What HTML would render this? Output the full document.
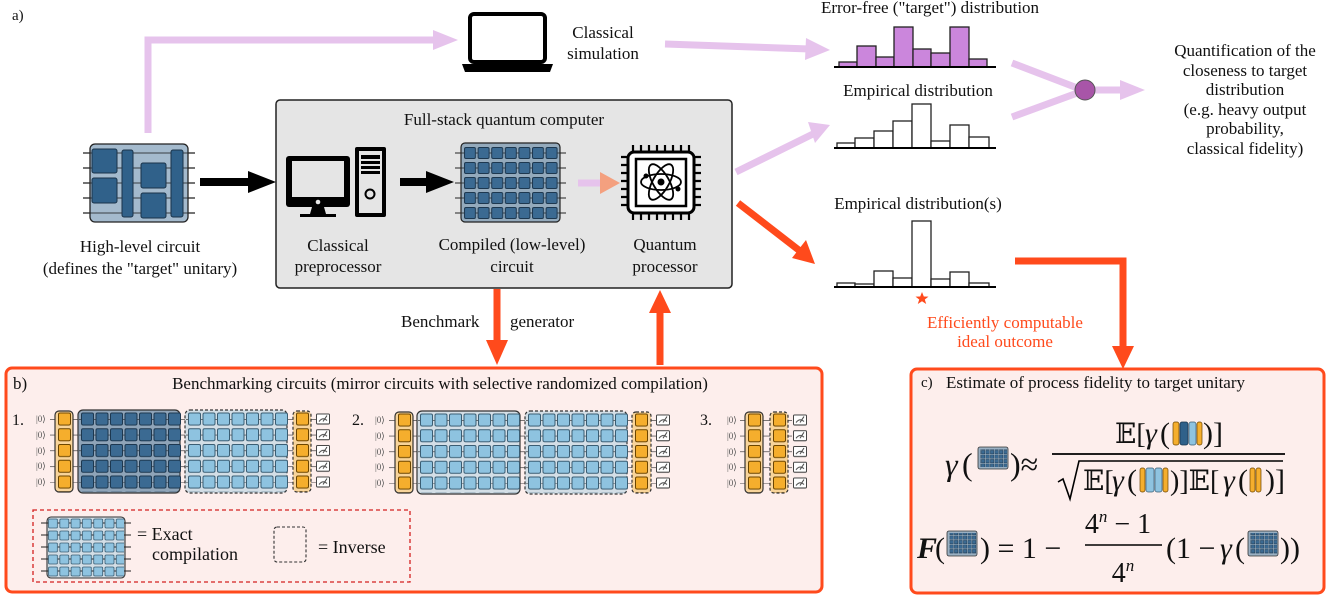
<!DOCTYPE html>
<html><head><meta charset="utf-8"><style>
html,body{margin:0;padding:0;background:#fff}
svg{display:block;font-family:"Liberation Serif","DejaVu Serif",serif}
svg text{font-family:"Liberation Serif","DejaVu Serif",serif !important;fill:#111}
</style></head><body>
<svg width="1327" height="596" viewBox="0 0 1327 596" xmlns="http://www.w3.org/2000/svg" font-family="Liberation Serif, DejaVu Serif, serif">
<defs>
<pattern id="pd" x="0" y="0" width="14.5" height="15.75" patternUnits="userSpaceOnUse"><rect x="0.5" y="0.5" width="12" height="12" rx="1.5" fill="#3b6a92" stroke="#1d3850" stroke-width="1"/></pattern>
<pattern id="pl" x="0" y="0" width="14.5" height="15.75" patternUnits="userSpaceOnUse"><rect x="0.5" y="0.5" width="12" height="12" rx="1.5" fill="#8ec3e0" stroke="#3a5d73" stroke-width="1"/></pattern>
<pattern id="pc" x="0" y="0" width="13.6" height="15" patternUnits="userSpaceOnUse"><rect x="0.5" y="0.5" width="11" height="11" rx="1.5" fill="#3b6a92" stroke="#1d3850" stroke-width="1"/></pattern>
<pattern id="pl2" x="0" y="0" width="11.3" height="12" patternUnits="userSpaceOnUse"><rect x="0.5" y="0.5" width="9" height="9" rx="1.2" fill="#8ec3e0" stroke="#3a5d73" stroke-width="0.8"/></pattern>
<pattern id="po" x="0" y="0" width="14" height="15.75" patternUnits="userSpaceOnUse"><rect x="0.5" y="0.5" width="12" height="12" rx="1.5" fill="#f5ae2d" stroke="#6b4500" stroke-width="1"/></pattern>
<pattern id="pm" x="0" y="0" width="14" height="15.75" patternUnits="userSpaceOnUse"><rect x="0.5" y="1.5" width="13" height="10" rx="1" fill="#fff" stroke="#444" stroke-width="1"/><path d="M3 9 Q7 4 11 8 M7 9 L11 3" stroke="#444" fill="none" stroke-width="1"/></pattern>
<pattern id="pmini" x="0" y="0" width="4.5" height="4.5" patternUnits="userSpaceOnUse"><rect x="0.4" y="0.4" width="3.4" height="3.4" fill="#3b6a92" stroke="#1d3850" stroke-width="0.4"/></pattern>
<pattern id="pw" x="0" y="0" width="10" height="15.75" patternUnits="userSpaceOnUse"><line x1="0" y1="0" x2="10" y2="0" stroke="#222" stroke-width="1.2"/></pattern>
</defs>

<text x="12" y="20" font-size="15">a)</text>

<path d="M148 133 V40 H440" fill="none" stroke="#e6c3ec" stroke-width="7"/>
<polygon points="433,30 458,40 433,50" fill="#e6c3ec"/>

<g stroke="#222" stroke-width="1.2">
<line x1="83" y1="153" x2="195" y2="153"/><line x1="83" y1="168" x2="195" y2="168"/><line x1="83" y1="183" x2="195" y2="183"/><line x1="83" y1="198" x2="195" y2="198"/><line x1="83" y1="213" x2="195" y2="213"/>
</g>
<rect x="90" y="144" width="98" height="78" rx="5" fill="#9ab3c8" fill-opacity="0.9" stroke="#222" stroke-width="1.3"/>
<g stroke="#222" stroke-width="0.8"><line x1="90" y1="153" x2="188" y2="153"/><line x1="90" y1="168" x2="188" y2="168"/><line x1="90" y1="183" x2="188" y2="183"/><line x1="90" y1="198" x2="188" y2="198"/><line x1="90" y1="213" x2="188" y2="213"/></g>
<g fill="#30618a" stroke="#1a3349" stroke-width="1">
<rect x="92" y="149" width="25" height="24" rx="2"/><rect x="92" y="178" width="25" height="25" rx="2"/>
<rect x="122" y="150" width="11" height="67" rx="2"/>
<rect x="141" y="163" width="25" height="25" rx="2"/><rect x="141" y="193" width="25" height="25" rx="2"/>
<rect x="171" y="150" width="12" height="67" rx="2"/>
</g>
<text x="140" y="252" font-size="17" text-anchor="middle">High-level circuit</text>
<text x="140" y="274" font-size="17" text-anchor="middle">(defines the "target" unitary)</text>

<line x1="200" y1="182" x2="252" y2="182" stroke="#000" stroke-width="8"/>
<polygon points="248,171 276,182 248,193" fill="#000"/>

<rect x="276" y="100" width="456" height="188" rx="4" fill="#e5e5e5" stroke="#222" stroke-width="1.5"/>
<text x="504" y="125" font-size="17" text-anchor="middle">Full-stack quantum computer</text>

<rect x="286" y="156" width="64" height="51" rx="3" fill="#000"/>
<rect x="292" y="161" width="52" height="36" fill="#e5e5e5"/>
<circle cx="318" cy="202" r="2.3" fill="#e5e5e5"/>
<path d="M312 207 L324 207 L326 214 L336 214 L336 217 L300 217 L300 214 L310 214 Z" fill="#000"/>
<rect x="355" y="147" width="31" height="70" rx="2" fill="#000"/>
<rect x="359" y="151" width="23" height="62" fill="#e5e5e5"/>
<rect x="361" y="155" width="19" height="4" fill="#000"/><rect x="361" y="161" width="19" height="3" fill="#000"/><rect x="361" y="166" width="19" height="3" fill="#000"/><rect x="361" y="171" width="19" height="3" fill="#000"/>
<circle cx="370" cy="194" r="4.5" fill="none" stroke="#000" stroke-width="2"/>
<text x="338" y="251" font-size="17" text-anchor="middle">Classical</text>
<text x="338" y="272" font-size="17" text-anchor="middle">preprocessor</text>

<line x1="400" y1="182" x2="430" y2="182" stroke="#000" stroke-width="8"/>
<polygon points="426,171 454,182 426,193" fill="#000"/>

<g stroke="#222" stroke-width="1"><line x1="455" y1="153" x2="566" y2="153"/><line x1="455" y1="168" x2="566" y2="168"/><line x1="455" y1="183" x2="566" y2="183"/><line x1="455" y1="198" x2="566" y2="198"/><line x1="455" y1="213" x2="566" y2="213"/></g>
<rect x="461" y="143" width="99" height="79" rx="4" fill="#8fa6b9" fill-opacity="0.95" stroke="#222" stroke-width="1.2"/>
<g stroke="#222" stroke-width="0.8"><line x1="461" y1="153" x2="560" y2="153"/><line x1="461" y1="168" x2="560" y2="168"/><line x1="461" y1="183" x2="560" y2="183"/><line x1="461" y1="198" x2="560" y2="198"/><line x1="461" y1="213" x2="560" y2="213"/></g>
<g transform="translate(464,147)"><rect x="0" y="0" width="95" height="73" fill="url(#pc)"/></g>
<text x="512" y="250" font-size="17" text-anchor="middle">Compiled (low-level)</text>
<text x="512" y="272" font-size="17" text-anchor="middle">circuit</text>

<line x1="578" y1="183" x2="605" y2="183" stroke="#e6c3ec" stroke-width="7"/>
<polygon points="600,172 620,183 600,194" fill="#f4a07f"/>

<g stroke="#000" stroke-width="2.2">
<path d="M633 145 v8 M641 145 v8 M649 145 v8 M657 145 v8 M665 145 v8 M673 145 v8 M681 145 v8 M689 145 v8"/>
<path d="M633 212 v8 M641 212 v8 M649 212 v8 M657 212 v8 M665 212 v8 M673 212 v8 M681 212 v8 M689 212 v8"/>
<path d="M621 157 h8 M621 165 h8 M621 173 h8 M621 181 h8 M621 189 h8 M621 197 h8 M621 205 h8"/>
<path d="M693 157 h8 M693 165 h8 M693 173 h8 M693 181 h8 M693 189 h8 M693 197 h8 M693 205 h8"/>
</g>
<rect x="628" y="152" width="66" height="61" rx="6" fill="#fff" stroke="#000" stroke-width="3"/>
<rect x="636" y="159" width="50" height="47" fill="#fff" stroke="#000" stroke-width="2.5"/>
<g fill="none" stroke="#000" stroke-width="1.8">
<ellipse cx="661" cy="182" rx="20" ry="8"/>
<ellipse cx="661" cy="182" rx="20" ry="8" transform="rotate(60 661 182)"/>
<ellipse cx="661" cy="182" rx="20" ry="8" transform="rotate(-60 661 182)"/>
</g>
<circle cx="661" cy="182" r="3.5" fill="#000"/><circle cx="646" cy="176" r="2.5" fill="#000"/><circle cx="678" cy="189" r="2.5" fill="#000"/>
<text x="665" y="250" font-size="17" text-anchor="middle">Quantum</text>
<text x="665" y="272" font-size="17" text-anchor="middle">processor</text>

<rect x="470" y="14" width="75" height="48" rx="4" fill="#fff" stroke="#000" stroke-width="4"/>
<path d="M462 64 H553 L550 72 H465 Z" fill="#000"/>
<text x="603" y="38" font-size="17" text-anchor="middle">Classical</text>
<text x="603" y="59" font-size="17" text-anchor="middle">simulation</text>

<line x1="665" y1="44" x2="810" y2="49" stroke="#e6c3ec" stroke-width="7"/>
<polygon points="806,38 830,50 805,60" fill="#e6c3ec"/>

<text x="930" y="13" font-size="17" text-anchor="middle">Error-free ("target") distribution</text>
<g fill="#cb86dc" stroke="#222" stroke-width="1.3">
<rect x="839" y="62" width="18" height="5"/><rect x="857" y="46" width="19" height="21"/><rect x="876" y="57" width="18" height="10"/><rect x="894" y="27" width="19" height="40"/><rect x="913" y="49" width="18" height="18"/><rect x="931" y="53" width="19" height="14"/><rect x="950" y="27" width="19" height="40"/><rect x="969" y="59" width="18" height="8"/>
</g>
<line x1="834" y1="67" x2="996" y2="67" stroke="#000" stroke-width="2"/>

<text x="918" y="96" font-size="17" text-anchor="middle">Empirical distribution</text>
<g fill="#fff" stroke="#222" stroke-width="1.3">
<rect x="837" y="143" width="18" height="5"/><rect x="855" y="138" width="19" height="10"/><rect x="874" y="131" width="19" height="17"/><rect x="893" y="121" width="19" height="27"/><rect x="912" y="104" width="19" height="44"/><rect x="931" y="141" width="19" height="7"/><rect x="950" y="125" width="19" height="23"/><rect x="969" y="137" width="20" height="11"/>
</g>
<line x1="834" y1="148" x2="996" y2="148" stroke="#000" stroke-width="2"/>

<line x1="736" y1="172" x2="815" y2="133" stroke="#e6c3ec" stroke-width="7"/>
<polygon points="808,122 830,125 815,143" fill="#e6c3ec"/>

<line x1="1012" y1="63" x2="1080" y2="89" stroke="#e6c3ec" stroke-width="7"/>
<line x1="1012" y1="117" x2="1080" y2="92" stroke="#e6c3ec" stroke-width="7"/>
<line x1="1090" y1="90" x2="1128" y2="90" stroke="#e6c3ec" stroke-width="7"/>
<polygon points="1120,80 1145,90 1120,100" fill="#e6c3ec"/>
<circle cx="1085" cy="90" r="10" fill="#a855a8" stroke="#555" stroke-width="1"/>

<g font-size="17" text-anchor="middle">
<text x="1245" y="56">Quantification of the</text>
<text x="1245" y="76">closeness to target</text>
<text x="1245" y="95">distribution</text>
<text x="1245" y="115">(e.g. heavy output</text>
<text x="1245" y="134">probability,</text>
<text x="1245" y="154">classical fidelity)</text>
</g>

<line x1="738" y1="203" x2="800" y2="251" stroke="#ff4a1c" stroke-width="7"/>
<polygon points="792,258 815,264 806,240" fill="#ff4a1c"/>

<text x="918" y="209" font-size="17" text-anchor="middle">Empirical distribution(s)</text>
<g fill="#fff" stroke="#222" stroke-width="1.3">
<rect x="837" y="283" width="18" height="4"/><rect x="855" y="284" width="19" height="3"/><rect x="874" y="271" width="19" height="16"/><rect x="893" y="278" width="19" height="9"/><rect x="912" y="221" width="19" height="66"/><rect x="931" y="279" width="19" height="8"/><rect x="950" y="272" width="19" height="15"/><rect x="969" y="283" width="20" height="4"/>
</g>
<line x1="834" y1="287" x2="996" y2="287" stroke="#000" stroke-width="2"/>
<polygon points="922,292 923.8,296.5 928.5,296.6 924.8,299.5 926.2,304 922,301.3 917.8,304 919.2,299.5 915.5,296.6 920.2,296.5" fill="#ff4a1c"/>
<text x="1005" y="328" font-size="17" text-anchor="middle" style="fill:#ff4a1c">Efficiently computable</text>
<text x="1005" y="347" font-size="17" text-anchor="middle" style="fill:#ff4a1c">ideal outcome</text>

<path d="M1015 261 H1123 V352" fill="none" stroke="#ff4a1c" stroke-width="7"/>
<polygon points="1112,346 1123,369 1134,346" fill="#ff4a1c"/>

<line x1="497" y1="289" x2="497" y2="345" stroke="#ff4a1c" stroke-width="7"/>
<polygon points="486,340 497,365 508,340" fill="#ff4a1c"/>
<line x1="660" y1="310" x2="660" y2="365" stroke="#ff4a1c" stroke-width="7"/>
<polygon points="649,313 660,290 671,313" fill="#ff4a1c"/>
<text x="401" y="327" font-size="17">Benchmark</text>
<text x="510" y="327" font-size="17">generator</text>

<rect x="6" y="368" width="816" height="224" rx="6" fill="#fdeeec" stroke="#ff4a1c" stroke-width="3"/>
<text x="13" y="389" font-size="17">b)</text>
<text x="440" y="389" font-size="17" text-anchor="middle">Benchmarking circuits (mirror circuits with selective randomized compilation)</text>

<text x="12" y="425" font-size="16">1.</text>
<g font-size="9"><text x="36" y="422" style="fill:#555">|0⟩</text><text x="36" y="438" style="fill:#555">|0⟩</text><text x="36" y="454" style="fill:#555">|0⟩</text><text x="36" y="469" style="fill:#555">|0⟩</text><text x="36" y="485" style="fill:#555">|0⟩</text></g>
<g transform="translate(50,419)"><rect x="0" y="-0.6" width="266" height="64" fill="url(#pw)"/></g>
<rect x="55" y="411" width="18" height="81" rx="4" fill="#f8d49a" stroke="#333" stroke-width="1.2"/>
<g transform="translate(58,412.5)"><rect x="0" y="0" width="13" height="79" fill="url(#po)"/></g>
<rect x="78" y="410" width="102" height="83" rx="5" fill="#8fa4b8" stroke="#333" stroke-width="1.2"/>
<g transform="translate(79,419)"><rect x="0" y="-0.6" width="100" height="64" fill="url(#pw)"/></g>
<g transform="translate(81,412.5)"><rect x="0" y="0" width="100" height="79" fill="url(#pd)"/></g>
<rect x="185" y="410" width="102" height="83" rx="5" fill="#d3dee6" stroke="#333" stroke-width="1.2" stroke-dasharray="3,2"/>
<g transform="translate(186,419)"><rect x="0" y="-0.6" width="100" height="64" fill="url(#pw)"/></g>
<g transform="translate(188,412.5)"><rect x="0" y="0" width="100" height="79" fill="url(#pl)"/></g>
<rect x="293" y="411" width="18" height="81" rx="4" fill="#f8d49a" stroke="#333" stroke-width="1.2" stroke-dasharray="3,2"/>
<g transform="translate(296,412.5)"><rect x="0" y="0" width="13" height="79" fill="url(#po)"/></g>
<g transform="translate(316,412.5)"><rect x="0" y="0" width="14" height="79" fill="url(#pm)"/></g>

<text x="352" y="425" font-size="16">2.</text>
<g font-size="9"><text x="375" y="423" style="fill:#555">|0⟩</text><text x="375" y="439" style="fill:#555">|0⟩</text><text x="375" y="455" style="fill:#555">|0⟩</text><text x="375" y="470" style="fill:#555">|0⟩</text><text x="375" y="486" style="fill:#555">|0⟩</text></g>
<g transform="translate(389,420)"><rect x="0" y="-0.6" width="267" height="64" fill="url(#pw)"/></g>
<rect x="395" y="412" width="18" height="81" rx="4" fill="#f8d49a" stroke="#333" stroke-width="1.2"/>
<g transform="translate(398,413.5)"><rect x="0" y="0" width="13" height="79" fill="url(#po)"/></g>
<rect x="417" y="411" width="103" height="83" rx="5" fill="#d3dee6" stroke="#333" stroke-width="1.2"/>
<g transform="translate(418,420)"><rect x="0" y="-0.6" width="101" height="64" fill="url(#pw)"/></g>
<g transform="translate(420,413.5)"><rect x="0" y="0" width="100" height="79" fill="url(#pl)"/></g>
<rect x="525" y="411" width="102" height="83" rx="5" fill="#d3dee6" stroke="#333" stroke-width="1.2" stroke-dasharray="3,2"/>
<g transform="translate(526,420)"><rect x="0" y="-0.6" width="100" height="64" fill="url(#pw)"/></g>
<g transform="translate(528,413.5)"><rect x="0" y="0" width="100" height="79" fill="url(#pl)"/></g>
<rect x="632" y="412" width="19" height="81" rx="4" fill="#f8d49a" stroke="#333" stroke-width="1.2" stroke-dasharray="3,2"/>
<g transform="translate(635,413.5)"><rect x="0" y="0" width="13" height="79" fill="url(#po)"/></g>
<g transform="translate(656,413.5)"><rect x="0" y="0" width="14" height="79" fill="url(#pm)"/></g>

<text x="700" y="425" font-size="16">3.</text>
<g font-size="9"><text x="727" y="423" style="fill:#555">|0⟩</text><text x="727" y="439" style="fill:#555">|0⟩</text><text x="727" y="455" style="fill:#555">|0⟩</text><text x="727" y="470" style="fill:#555">|0⟩</text><text x="727" y="486" style="fill:#555">|0⟩</text></g>
<g transform="translate(740,420)"><rect x="0" y="-0.6" width="52" height="64" fill="url(#pw)"/></g>
<rect x="745" y="412" width="18" height="81" rx="4" fill="#f8d49a" stroke="#333" stroke-width="1.2"/>
<g transform="translate(748,413.5)"><rect x="0" y="0" width="13" height="79" fill="url(#po)"/></g>
<rect x="770" y="412" width="18" height="81" rx="4" fill="#f8d49a" stroke="#333" stroke-width="1.2" stroke-dasharray="3,2"/>
<g transform="translate(773,413.5)"><rect x="0" y="0" width="13" height="79" fill="url(#po)"/></g>
<g transform="translate(793,413.5)"><rect x="0" y="0" width="14" height="79" fill="url(#pm)"/></g>

<rect x="33" y="510" width="377" height="72" fill="none" stroke="#d42020" stroke-width="1.3" stroke-dasharray="4,3"/>
<rect x="47" y="517" width="78" height="61" rx="4" fill="#d3dee6" stroke="#333" stroke-width="1.1"/>
<g stroke="#222" stroke-width="0.9"><line x1="41" y1="523" x2="131" y2="523"/><line x1="41" y1="535" x2="131" y2="535"/><line x1="41" y1="547" x2="131" y2="547"/><line x1="41" y1="559" x2="131" y2="559"/><line x1="41" y1="571" x2="131" y2="571"/></g>
<g transform="translate(48,518.5)"><rect x="0" y="0" width="76" height="58" fill="url(#pl2)"/></g>
<text x="137" y="540" font-size="18">= Exact</text>
<text x="152" y="560" font-size="18">compilation</text>
<rect x="274" y="527" width="32" height="35" rx="3" fill="none" stroke="#333" stroke-width="1.1" stroke-dasharray="3,2"/>
<text x="318" y="553" font-size="18">= Inverse</text>

<rect x="911" y="369" width="413" height="224" rx="6" fill="#fdeeec" stroke="#ff4a1c" stroke-width="3"/>
<text x="921" y="387" font-size="15">c)</text>
<text x="946" y="388" font-size="17">Estimate of process fidelity to target unitary</text>

<text x="945" y="475" font-size="32" font-style="italic">γ</text>
<text x="962" y="475" font-size="32">(</text>
<rect x="978" y="447" width="30" height="22" rx="2" fill="#9ab0c3" stroke="#333" stroke-width="0.8"/>
<rect x="980" y="449" width="27" height="18" fill="url(#pmini)"/>
<text x="1010" y="475" font-size="32">)≈</text>
<line x1="1052" y1="454" x2="1285" y2="454" stroke="#000" stroke-width="1.8"/>
<text x="1115" y="443" font-size="28">𝔼[</text>
<text x="1145" y="443" font-size="30" font-style="italic">γ</text>
<text x="1160" y="443" font-size="30">(</text>
<rect x="1173" y="422" width="6" height="23" rx="2" fill="#f5ae2d" stroke="#6b4500" stroke-width="0.7"/>
<rect x="1180" y="422" width="8" height="23" rx="2" fill="#30618a" stroke="#1a3349" stroke-width="0.7"/>
<rect x="1189" y="422" width="7" height="23" rx="2" fill="#8ec3e0" stroke="#3a5d73" stroke-width="0.7"/>
<rect x="1197" y="422" width="5" height="23" rx="2" fill="#f5ae2d" stroke="#6b4500" stroke-width="0.7"/>
<text x="1203" y="443" font-size="30">)]</text>
<path d="M1058 482 l5 -3 l7 20 l9 -38 H1283" fill="none" stroke="#000" stroke-width="1.6"/>
<text x="1083" y="490" font-size="28">𝔼[</text>
<text x="1112" y="490" font-size="30" font-style="italic">γ</text>
<text x="1127" y="490" font-size="30">(</text>
<rect x="1140" y="468" width="5" height="24" rx="2" fill="#f5ae2d" stroke="#6b4500" stroke-width="0.7"/>
<rect x="1146" y="468" width="8" height="24" rx="2" fill="#8ec3e0" stroke="#3a5d73" stroke-width="0.7"/>
<rect x="1155" y="468" width="7" height="24" rx="2" fill="#8ec3e0" stroke="#3a5d73" stroke-width="0.7"/>
<rect x="1163" y="468" width="5" height="24" rx="2" fill="#f5ae2d" stroke="#6b4500" stroke-width="0.7"/>
<text x="1170" y="490" font-size="28">)]𝔼[</text>
<text x="1223" y="490" font-size="30" font-style="italic">γ</text>
<text x="1238" y="490" font-size="30">(</text>
<rect x="1250" y="468" width="5" height="24" rx="2" fill="#f5ae2d" stroke="#6b4500" stroke-width="0.7"/>
<rect x="1256" y="468" width="5" height="24" rx="2" fill="#f5ae2d" stroke="#6b4500" stroke-width="0.7"/>
<text x="1265" y="490" font-size="30">)]</text>

<text x="917" y="558" font-size="30" font-style="italic" font-weight="bold">F</text>
<text x="935" y="558" font-size="30">(</text>
<rect x="947" y="531" width="30" height="25" rx="2" fill="#9ab0c3" stroke="#333" stroke-width="0.8"/>
<rect x="949" y="533" width="27" height="21" fill="url(#pmini)"/>
<text x="980" y="558" font-size="30">) = 1 −</text>
<text x="1118" y="533" font-size="28" text-anchor="middle">4<tspan font-size="17" font-style="italic" dy="-11">n</tspan><tspan dy="11"> − 1</tspan></text>
<line x1="1085" y1="545" x2="1162" y2="545" stroke="#000" stroke-width="1.6"/>
<text x="1123" y="582" font-size="28" text-anchor="middle">4<tspan font-size="17" font-style="italic" dy="-11">n</tspan></text>
<text x="1166" y="558" font-size="30">(1 −</text>
<text x="1220" y="558" font-size="30" font-style="italic">γ</text>
<text x="1235" y="558" font-size="30">(</text>
<rect x="1248" y="531" width="30" height="25" rx="2" fill="#9ab0c3" stroke="#333" stroke-width="0.8"/>
<rect x="1250" y="533" width="27" height="21" fill="url(#pmini)"/>
<text x="1280" y="558" font-size="30">))</text>
</svg>
</body></html>
